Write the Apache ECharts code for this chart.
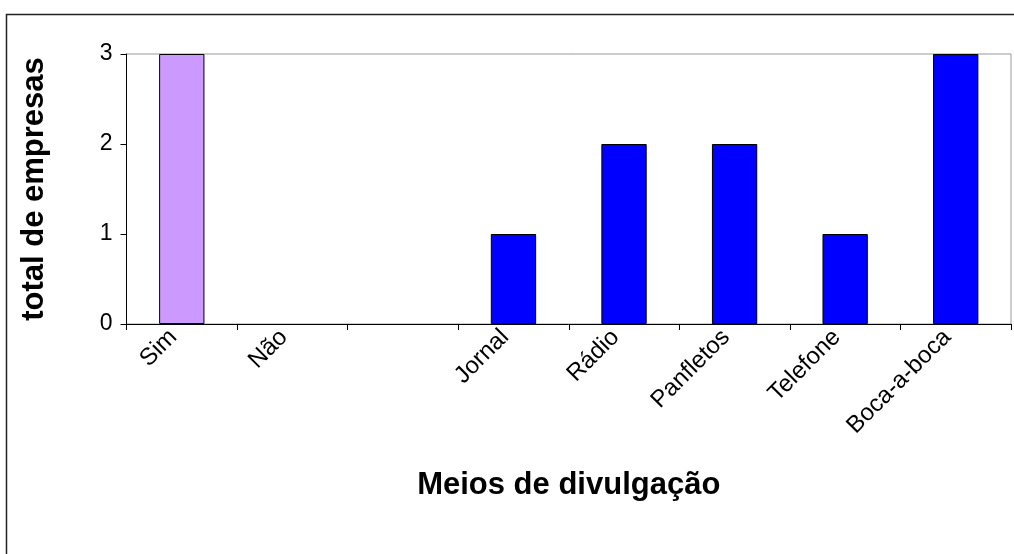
<!DOCTYPE html>
<html>
<head>
<meta charset="utf-8">
<script src="https://cdn.jsdelivr.net/npm/echarts@6/dist/echarts.min.js"></script>
<style>
  html, body { margin: 0; padding: 0; background: #fff; }
  #chart { width: 1014px; height: 554px; }
</style>
</head>
<body>
<div id="chart"></div>
<script>
// Meios de divulgação usados pelas empresas
const categories = ['Sim', 'Não', '', 'Jornal', 'Rádio', 'Panfletos', 'Telefone', 'Boca-a-boca'];
const totals = [3, 0, null, 1, 2, 2, 1, 3];
const yTicks = [0, 1, 2, 3];

const FONT = "'Liberation Sans', Arial, sans-serif";
const chart = echarts.init(document.getElementById('chart'), null, { renderer: 'canvas' });

const barData = totals.map((v, i) => ({
  value: v,
  itemStyle: {
    color: categories[i] === 'Sim' ? '#CC99FF' : '#0000FF',
    borderWidth: v ? 1 : 0
  }
}));

chart.setOption({
  animation: false,
  backgroundColor: '#ffffff',
  graphic: [{
    type: 'rect',
    left: 4, top: 12,
    shape: { width: 1040, height: 580 },
    style: { fill: 'none', stroke: '#222', lineWidth: 1.5 },
    silent: true
  }],
  grid: {
    left: 126.5, right: 3, top: 54, bottom: 230,
    show: true, borderColor: '#999', borderWidth: 1, backgroundColor: '#fff'
  },
  xAxis: {
    type: 'category',
    data: categories,
    name: 'Meios de divulgação',
    nameLocation: 'middle',
    nameGap: 146,
    nameTextStyle: { fontFamily: FONT, fontSize: 31, fontWeight: 'bold', color: '#000' },
    axisLine: { lineStyle: { color: '#000', width: 1 } },
    axisTick: { show: true, length: 6, lineStyle: { color: '#000' } },
    axisLabel: {
      rotate: 45, margin: 18, verticalAlign: 'bottom',
      fontFamily: FONT, fontSize: 24, color: '#000', interval: 0
    },
    splitLine: { show: false }
  },
  yAxis: {
    type: 'value',
    min: yTicks[0], max: yTicks[yTicks.length - 1], interval: 1,
    name: 'total de empresas',
    nameLocation: 'middle',
    nameRotate: 90,
    nameGap: 77,
    nameTextStyle: { fontFamily: FONT, fontSize: 31, fontWeight: 'bold', color: '#000' },
    axisLine: { show: true, lineStyle: { color: '#000', width: 1 } },
    axisTick: { show: true, length: 6, lineStyle: { color: '#000' } },
    axisLabel: { margin: 14, fontFamily: FONT, fontSize: 23, color: '#000' },
    splitLine: { show: false }
  },
  series: [{
    type: 'bar',
    data: barData,
    barWidth: '41%',
    itemStyle: { borderColor: '#000', borderWidth: 1 }
  }]
});
</script>
</body>
</html>
